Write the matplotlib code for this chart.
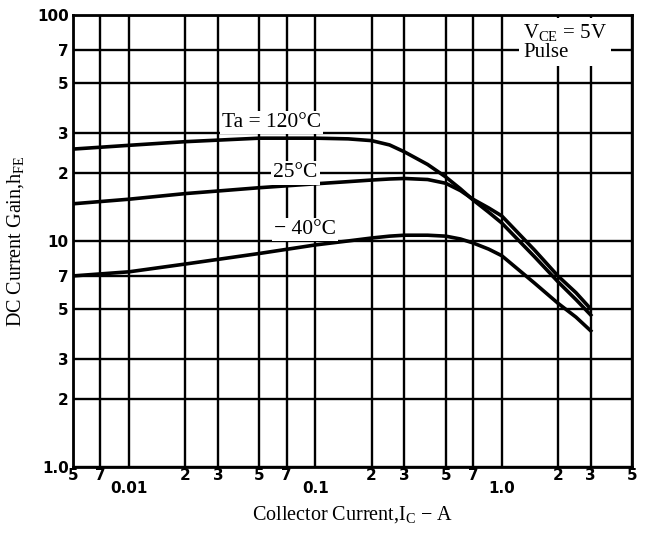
import matplotlib
matplotlib.use("Agg")
import matplotlib.pyplot as plt
from matplotlib.ticker import NullFormatter

# Collector current (A) and DC current gain
ic = [0.005, 0.01, 0.02, 0.05, 0.1, 0.15, 0.2, 0.25, 0.3, 0.4, 0.5, 0.6, 0.7,
      0.85, 1.0, 1.5, 2.0, 2.5, 3.0]
hfe_120 = [25.5, 26.5, 27.5, 28.5, 28.5, 28.3, 27.8, 26.6, 24.8, 21.8, 19.2, 17.0, 15.2,
           13.4, 12.0, 8.5, 6.6, 5.5, 4.7]
hfe_25 = [14.6, 15.3, 16.2, 17.2, 17.9, 18.3, 18.6, 18.8, 18.9, 18.7, 18.0, 16.7, 15.3,
          14.0, 12.9, 9.1, 7.0, 5.9, 5.0]
hfe_m40 = [7.0, 7.3, 7.9, 8.8, 9.6, 10.0, 10.3, 10.5, 10.6, 10.6, 10.5, 10.2, 9.8,
           9.2, 8.6, 6.5, 5.3, 4.6, 4.0]

# grid / tick positions
x_digits = [0.005, 0.007, 0.02, 0.03, 0.05, 0.07, 0.2, 0.3, 0.5, 0.7, 2, 3, 5]
x_digit_labels = ["5", "7", "2", "3", "5", "7", "2", "3", "5", "7", "2", "3", "5"]
x_decades = [0.01, 0.1, 1.0]
x_decade_labels = ["0.01", "0.1", "1.0"]
y_ticks = [1, 2, 3, 5, 7, 10, 20, 30, 50, 70, 100]
y_labels = ["1.0", "2", "3", "5", "7", "10", "2", "3", "5", "7", "100"]

serif = ["Liberation Serif", "DejaVu Serif"]
plt.rcParams["mathtext.fontset"] = "custom"
plt.rcParams["mathtext.rm"] = "Liberation Serif"
plt.rcParams["mathtext.it"] = "Liberation Serif:italic"
plt.rcParams["mathtext.bf"] = "Liberation Serif:bold"

fig = plt.figure(figsize=(6.45, 5.36), dpi=100)
ax = fig.add_axes([0.113, 0.129, 0.867, 0.843])
ax.set_xscale("log")
ax.set_yscale("log")
ax.set_xlim(0.005, 5)
ax.set_ylim(1, 100)

# grid lines at every tick
for x in x_digits + x_decades:
    ax.axvline(x, color="black", lw=1.7, zorder=1)
for y in y_ticks:
    ax.axhline(y, color="black", lw=1.7, zorder=1)

ax.plot(ic, hfe_120, color="black", lw=2.6, zorder=3)
ax.plot(ic, hfe_25, color="black", lw=2.6, zorder=3)
ax.plot(ic, hfe_m40, color="black", lw=2.6, zorder=3)

box = dict(facecolor="white", edgecolor="none", pad=1.5)
ax.text(0.058, 33.5, "Ta = 120°C", ha="center", va="center", fontsize=15.5,
        family=serif, bbox=box, zorder=4)
ax.text(0.078, 20, "25°C", ha="center", va="center", fontsize=15.5,
        family=serif, bbox=box, zorder=4)
ax.text(0.088, 11.2, "− 40°C", ha="center", va="center", fontsize=15.5,
        family=serif, bbox=box, zorder=4)
ax.text(0.805, 0.985, "V$_{\\mathrm{CE}}$ = 5V\nPulse", transform=ax.transAxes,
        ha="left", va="top", fontsize=15, family=serif, linespacing=1.0,
        bbox=dict(facecolor="white", edgecolor="none", pad=3), zorder=4)

# tick labels
ax.set_xticks(x_digits)
ax.set_xticklabels(x_digit_labels)
ax.set_xticks(x_decades, minor=True)
ax.set_xticklabels(x_decade_labels, minor=True)
ax.set_yticks(y_ticks)
ax.set_yticklabels(y_labels)
ax.yaxis.set_minor_formatter(NullFormatter())
ax.yaxis.set_minor_locator(plt.NullLocator())
ax.tick_params(axis="x", which="major", length=0, pad=1, labelsize=11)
ax.tick_params(axis="x", which="minor", length=0, pad=10, labelsize=11)
ax.tick_params(axis="y", length=0, pad=3, labelsize=11)
for lab in ax.get_xticklabels() + ax.get_xticklabels(minor=True) + ax.get_yticklabels():
    lab.set_fontweight("bold")

for s in ax.spines.values():
    s.set_linewidth(2)

ax.set_xlabel("Collector Current,I$_{\\mathrm{C}}$ − A", fontsize=14.5, family=serif, labelpad=6)
ax.set_ylabel("DC Current Gain,h$_{\\mathrm{FE}}$", fontsize=14.5, family=serif, labelpad=8)

fig.savefig("out.png", dpi=100, facecolor="white")
